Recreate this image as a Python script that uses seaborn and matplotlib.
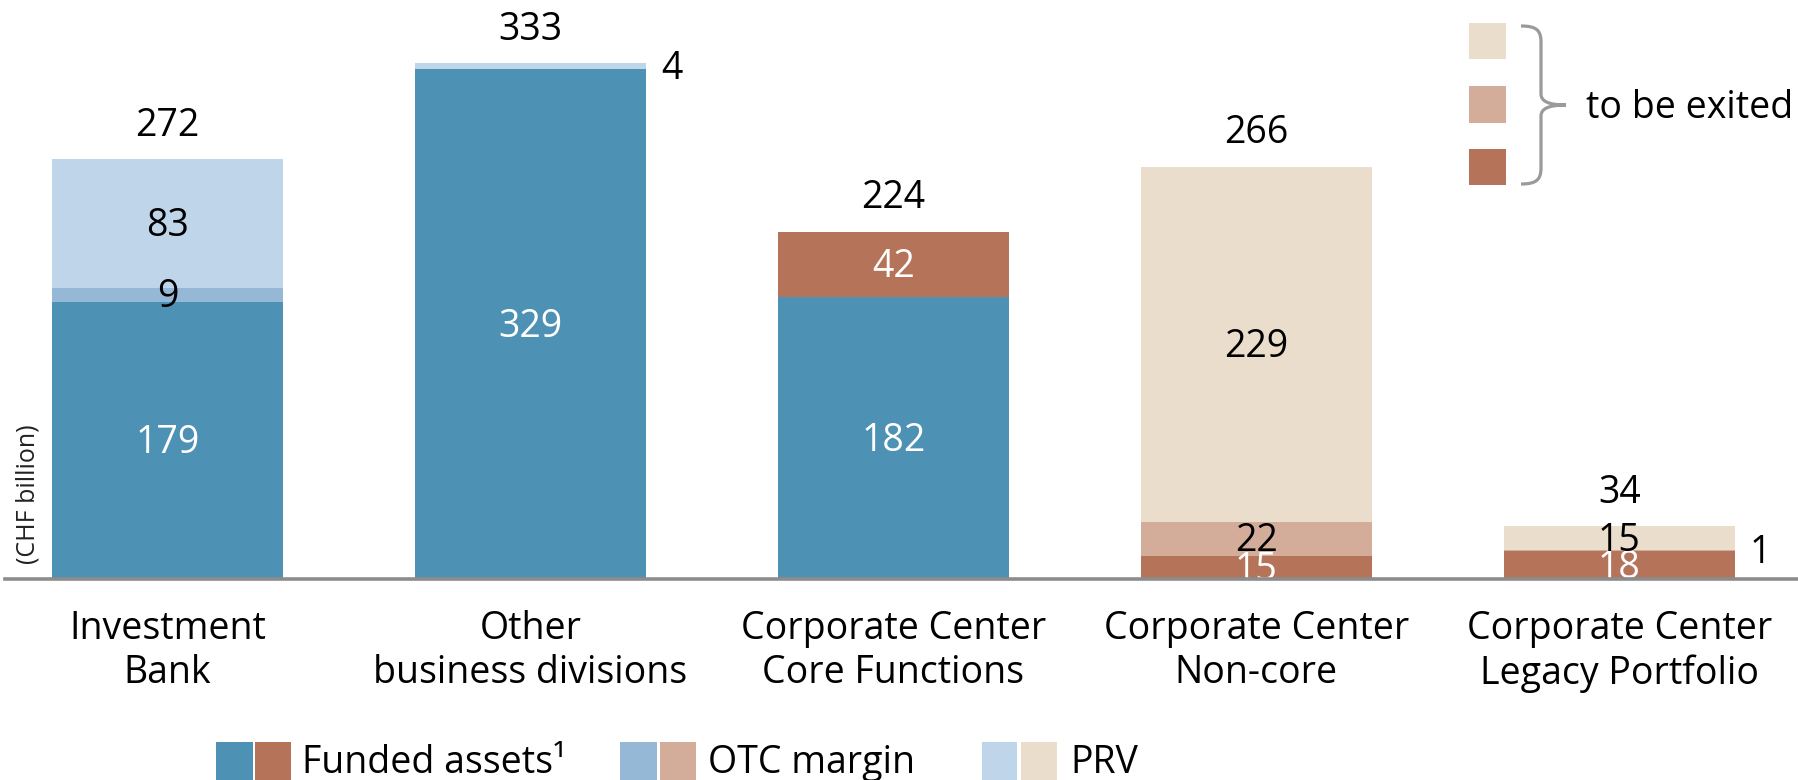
import numpy as np
import pandas as pd
import matplotlib
matplotlib.use("Agg")
import matplotlib.pyplot as plt
from matplotlib.patches import Rectangle, PathPatch
from matplotlib.path import Path
import seaborn as sns

# ---- data (CHF billion) ----
divisions = [
    "Investment\nBank",
    "Other\nbusiness divisions",
    "Corporate Center\nCore Functions",
    "Corporate Center\nNon-core",
    "Corporate Center\nLegacy Portfolio",
]
funded_core = [179, 329, 182, 0, 0]
funded_exit = [0, 0, 42, 15, 18]
otc_margin = [9, 0, 0, 22, 1]
prv = [83, 4, 0, 229, 15]
totals = [272, 333, 224, 266, 34]
to_be_exited = [False, False, False, True, True]

# ---- colours ----
BLUE_FUNDED = "#4D91B5"
BLUE_OTC = "#94B8D6"
BLUE_PRV = "#BFD6EA"
BROWN_FUNDED = "#B5735A"
BROWN_OTC = "#D4AC9A"
BROWN_PRV = "#EADDCC"
AXIS_GREY = "#8C8C8C"
BRACE_GREY = "#9A9A9A"

sns.set_style("white")
plt.rcParams["font.family"] = ["Open Sans", "DejaVu Sans"]

W, H = 1798, 780
fig = plt.figure(figsize=(W / 100, H / 100), dpi=100)
fig.patch.set_facecolor("white")

PX_PER_UNIT = 1.55
SLOT = 363.0
FIRST_CENTER = 167.4
ax = fig.add_axes([5 / W, 201 / H, 1 - 5 / W, 579 / H])

df = pd.DataFrame({
    "division": divisions,
    "funded_core": funded_core,
    "funded_exit": funded_exit,
    "otc": otc_margin,
    "prv": prv,
    "exit": to_be_exited,
})
df["c1"] = df["funded_core"]
df["c2"] = df["c1"] + df["funded_exit"]
df["c3"] = df["c2"] + df["otc"]
df["c4"] = df["c3"] + df["prv"]


def pal(core_col, exit_col):
    return {d: (exit_col if e else core_col) for d, e in zip(divisions, to_be_exited)}


# stacked bars drawn as overlapping cumulative layers, top layer first
layers = [
    ("c4", pal(BLUE_PRV, BROWN_PRV)),
    ("c3", pal(BLUE_OTC, BROWN_OTC)),
    ("c2", pal(BROWN_FUNDED, BROWN_FUNDED)),
    ("c1", pal(BLUE_FUNDED, BLUE_FUNDED)),
]
BAR_W = 0.635
for col, palette in layers:
    sns.barplot(data=df, x="division", y=col, hue="division", order=divisions,
                palette=palette, legend=False, width=BAR_W, saturation=1,
                errorbar=None, linewidth=0, edgecolor="none", ax=ax)

ax.set_xlim(-(FIRST_CENTER - 5) / SLOT, (W - FIRST_CENTER) / SLOT)
ax.set_ylim(0, 579 / PX_PER_UNIT)
ax.set_xlabel("")
ax.set_ylabel("")
ax.set_yticks([])
for s in ("left", "top", "right"):
    ax.spines[s].set_visible(False)
ax.spines["bottom"].set_color(AXIS_GREY)
ax.spines["bottom"].set_linewidth(2.6)
ax.spines["bottom"].set_zorder(5)
ax.set_xticks(range(len(divisions)))
ax.set_xticklabels(divisions)
ax.tick_params(axis="x", length=0, pad=22, labelsize=27, colors="black")
for lbl in ax.get_xticklabels():
    lbl.set_linespacing(1.22)

FS = 27
# segment labels
segments = [
    ("funded_core", "c1", "white"),
    ("funded_exit", "c2", "white"),
    ("otc", "c3", "black"),
    ("prv", "c4", "black"),
]
for i, row in df.iterrows():
    for val_col, top_col, tc in segments:
        v = row[val_col]
        if v <= 0:
            continue
        mid = row[top_col] - v / 2
        if v < 5:
            ax.annotate(str(v), (i + BAR_W / 2, mid), xytext=(11, -2),
                        textcoords="offset points", ha="left", va="center",
                        fontsize=FS, color="black")
        else:
            ax.annotate(str(v), (i, mid), xytext=(0, -2),
                        textcoords="offset points", ha="center", va="center",
                        fontsize=FS, color=tc)
    ax.annotate(str(totals[i]), (i, row["c4"]), xytext=(0, 24),
                textcoords="offset points", ha="center", va="center",
                fontsize=FS, color="black")

# unit label
fig.text(28 / W, 1 - 494 / H, "(CHF billion)", rotation=90, ha="center",
         va="center", fontsize=18, color="#222222")


def fx(x):
    return x / W


def fy(y):
    return 1 - y / H


def swatch(x0, x1, y0, y1, color):
    fig.add_artist(Rectangle((fx(x0), fy(y1)), fx(x1) - fx(x0), fy(y0) - fy(y1),
                             transform=fig.transFigure, facecolor=color,
                             edgecolor="none"))


# key for positions to be exited
for (y0, y1), c in zip([(23, 59), (86, 123), (149, 185)],
                       [BROWN_PRV, BROWN_OTC, BROWN_FUNDED]):
    swatch(1469, 1506, y0, y1, c)

brace_pts = [
    (1521, 26),
    (1536, 26), (1541, 30), (1541, 42),
    (1541, 94),
    (1541, 101), (1548, 105), (1566, 105),
    (1548, 105), (1541, 109), (1541, 116),
    (1541, 168),
    (1541, 180), (1536, 184), (1521, 184),
]
codes = [Path.MOVETO] + [Path.CURVE4] * 3 + [Path.LINETO] + [Path.CURVE4] * 6 + \
        [Path.LINETO] + [Path.CURVE4] * 3
brace = Path([(fx(x), fy(y)) for x, y in brace_pts], codes)
fig.add_artist(PathPatch(brace, transform=fig.transFigure, facecolor="none",
                         edgecolor=BRACE_GREY, linewidth=2.3, capstyle="butt"))
fig.text(fx(1586), fy(118), "to be exited", ha="left", va="baseline",
         fontsize=FS, color="black")

# bottom key
key = [
    (216, 253, 255, 291, BLUE_FUNDED, BROWN_FUNDED, 302, "Funded assets\u00b9"),
    (620, 657, 660, 696, BLUE_OTC, BROWN_OTC, 708, "OTC margin"),
    (982, 1017, 1021, 1057, BLUE_PRV, BROWN_PRV, 1070, "PRV"),
]
for bx0, bx1, rx0, rx1, bc, rc, tx, label in key:
    swatch(bx0, bx1, 742, 782, bc)
    swatch(rx0, rx1, 742, 782, rc)
    fig.text(fx(tx), fy(773), label, ha="left", va="baseline",
             fontsize=FS, color="black")

fig.savefig("out.png", dpi=100, facecolor="white")
